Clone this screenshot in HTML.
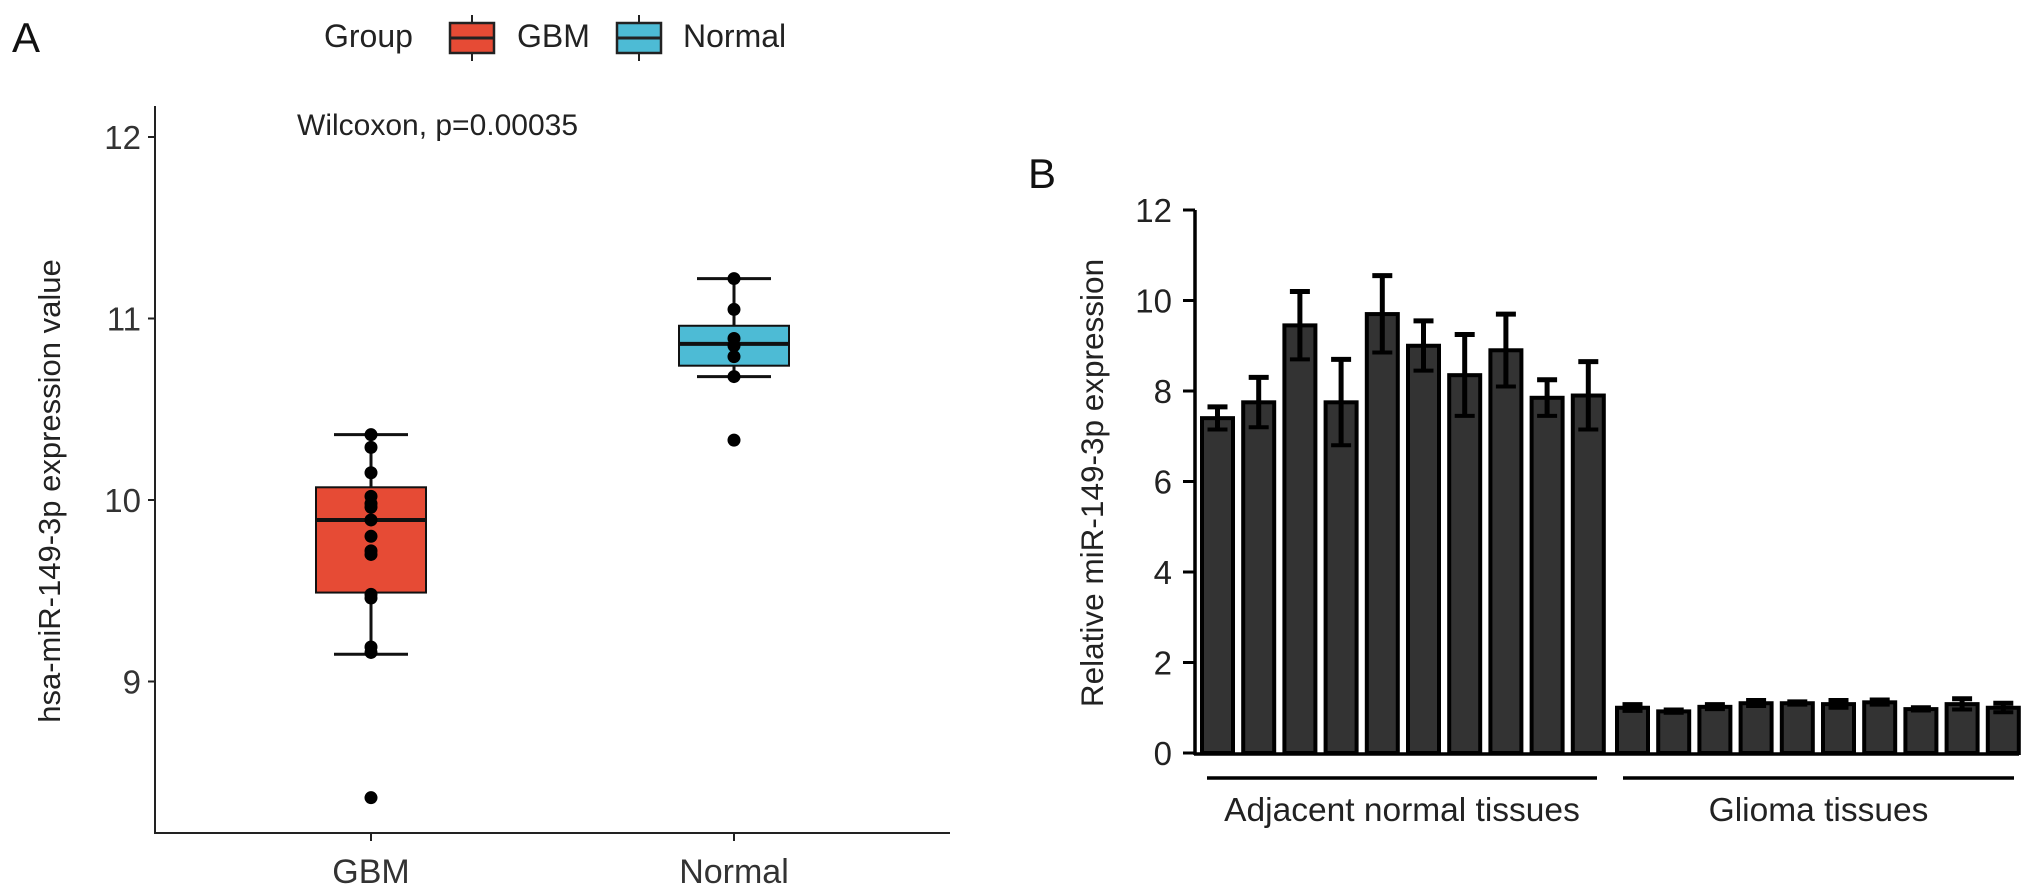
<!DOCTYPE html>
<html><head><meta charset="utf-8"><style>
html,body{margin:0;padding:0;background:#fff}
svg{display:block;font-family:"Liberation Sans",Arial,sans-serif}
</style></head><body>
<svg id="fig" width="2032" height="895" viewBox="0 0 2032 895">
<text x="12" y="52" font-size="42" fill="#111">A</text>
<text x="1028" y="188" font-size="42" fill="#111">B</text>
<g id="legend">
<text x="324" y="47" font-size="32" fill="#222">Group</text>
<g>
<line x1="472" y1="15" x2="472" y2="61" stroke="#222" stroke-width="2"/>
<rect x="450" y="23" width="44" height="30" fill="#E64B35" stroke="#222" stroke-width="2.5"/>
<line x1="450" y1="38" x2="494" y2="38" stroke="#222" stroke-width="3"/>
<text x="517" y="47" font-size="32" fill="#222">GBM</text></g>
<g>
<line x1="639" y1="15" x2="639" y2="61" stroke="#222" stroke-width="2"/>
<rect x="617" y="23" width="44" height="30" fill="#4DBBD5" stroke="#222" stroke-width="2.5"/>
<line x1="617" y1="38" x2="661" y2="38" stroke="#222" stroke-width="3"/>
<text x="683" y="47" font-size="32" fill="#222">Normal</text></g>
</g>
<g id="pa"></g>
<g id="pb"></g>
</svg>
<script>
// Panel A data
const groupsA = ["GBM", "Normal"];
const colorsA = ["#E64B35", "#4DBBD5"];
const gbmPoints = [10.36,10.29,10.15,10.02,9.98,9.96,9.89,9.80,9.72,9.70,9.48,9.46,9.19,9.16,8.36];
const normalPoints = [11.22,11.05,10.89,10.85,10.79,10.68,10.33];
const boxStats = [[9.15,9.49,9.89,10.07,10.36],[10.68,10.74,10.86,10.96,11.22]];
const ticksA = [9,10,11,12];
// Panel B data
const barValues = [7.4,7.75,9.45,7.75,9.7,9.0,8.35,8.9,7.85,7.9,1.0,0.92,1.02,1.1,1.1,1.08,1.12,0.97,1.08,1.0];
const barErrors = [0.25,0.55,0.75,0.95,0.85,0.55,0.9,0.8,0.4,0.75,0.07,0.03,0.05,0.06,0.03,0.08,0.05,0.03,0.12,0.1];
const ticksB = [0,2,4,6,8,10,12];
const groupLabelsB = ["Adjacent normal tissues","Glioma tissues"];

const NS="http://www.w3.org/2000/svg";
function mk(p,t,a,txt){const e=document.createElementNS(NS,t);for(const k in a)e.setAttribute(k,a[k]);if(txt!==undefined)e.textContent=txt;p.appendChild(e);return e;}

// ---- Panel A ----
const pa=document.getElementById('pa');
const yA=v=>500-(v-10)*181.5;
const xA=i=>371+i*363;
mk(pa,'line',{x1:155,y1:106,x2:155,y2:834,stroke:'#222','stroke-width':2});
mk(pa,'line',{x1:154,y1:833,x2:950,y2:833,stroke:'#222','stroke-width':2});
ticksA.forEach(t=>{
  mk(pa,'line',{x1:148,y1:yA(t),x2:155,y2:yA(t),stroke:'#222','stroke-width':2});
  const l=mk(pa,'text',{x:141,y:yA(t)+12,'font-size':33,'text-anchor':'end',fill:'#333'},String(t));
  
  
});
groupsA.forEach((g,i)=>{
  mk(pa,'line',{x1:xA(i),y1:833,x2:xA(i),y2:841,stroke:'#222','stroke-width':2});
  const l=mk(pa,'text',{x:xA(i),y:883,'font-size':34,'text-anchor':'middle',fill:'#333'},g);
  
  
});
const ta=mk(pa,'text',{x:60,y:491,'font-size':31,'text-anchor':'middle',fill:'#222',transform:'rotate(-90 60 491)'},'hsa-miR-149-3p expression value');


const wt=mk(pa,'text',{x:297,y:135,'font-size':30,fill:'#222'},'Wilcoxon, p=0.00035');


[gbmPoints,normalPoints].forEach((pts,i)=>{
  const s=boxStats[i],cx=xA(i),hw=55,cw=37;
  const g=mk(pa,'g',{});
  
  
  mk(g,'line',{x1:cx,y1:yA(s[4]),x2:cx,y2:yA(s[0]),stroke:'#111','stroke-width':3});
  mk(g,'line',{x1:cx-cw,y1:yA(s[4]),x2:cx+cw,y2:yA(s[4]),stroke:'#111','stroke-width':3});
  mk(g,'line',{x1:cx-cw,y1:yA(s[0]),x2:cx+cw,y2:yA(s[0]),stroke:'#111','stroke-width':3});
  mk(g,'rect',{x:cx-hw,y:yA(s[3]),width:2*hw,height:yA(s[1])-yA(s[3]),fill:colorsA[i],stroke:'#111','stroke-width':2});
  mk(g,'line',{x1:cx-hw,y1:yA(s[2]),x2:cx+hw,y2:yA(s[2]),stroke:'#111','stroke-width':4});
  pts.forEach(v=>{
    const c=mk(g,'circle',{cx:cx,cy:yA(v),r:6.5,fill:'#000'});
    
    
  });
});

// ---- Panel B ----
const pb=document.getElementById('pb');
const yB=v=>753-v*45.25;
const xB=i=>1217.5+i*41.2+(i>=10?3:0);
const bw=31;
barValues.forEach((v,i)=>{
  const cx=xB(i),e=barErrors[i];
  const g=mk(pb,'g',{});
  
  
  mk(g,'rect',{x:cx-bw/2,y:yB(v),width:bw,height:753-yB(v),fill:'#333',stroke:'#000','stroke-width':4});
  mk(g,'line',{x1:cx,y1:yB(v+e),x2:cx,y2:yB(v-e),stroke:'#000','stroke-width':5});
  mk(g,'line',{x1:cx-10,y1:yB(v+e),x2:cx+10,y2:yB(v+e),stroke:'#000','stroke-width':5});
  mk(g,'line',{x1:cx-10,y1:yB(v-e),x2:cx+10,y2:yB(v-e),stroke:'#000','stroke-width':4});
});
mk(pb,'line',{x1:1195,y1:210,x2:1195,y2:755,stroke:'#000','stroke-width':3.5});
mk(pb,'line',{x1:1194,y1:754,x2:2019,y2:754,stroke:'#000','stroke-width':3.5});
ticksB.forEach(t=>{
  mk(pb,'line',{x1:1183,y1:yB(t),x2:1195,y2:yB(t),stroke:'#000','stroke-width':3});
  const l=mk(pb,'text',{x:1172,y:yB(t)+12,'font-size':33,'text-anchor':'end',fill:'#222'},String(t));
  
  
});
const tb=mk(pb,'text',{x:1103,y:483,'font-size':31.5,'text-anchor':'middle',fill:'#222',transform:'rotate(-90 1103 483)'},'Relative miR-149-3p expression');


[[1207,1597],[1623,2014]].forEach((r,i)=>{
  const l=mk(pb,'line',{x1:r[0],y1:778,x2:r[1],y2:778,stroke:'#000','stroke-width':3.5});
  
  
  const t=mk(pb,'text',{x:(r[0]+r[1])/2,y:821,'font-size':33.5,'text-anchor':'middle',fill:'#222'},groupLabelsB[i]);
  
  
});
</script>
</body></html>
